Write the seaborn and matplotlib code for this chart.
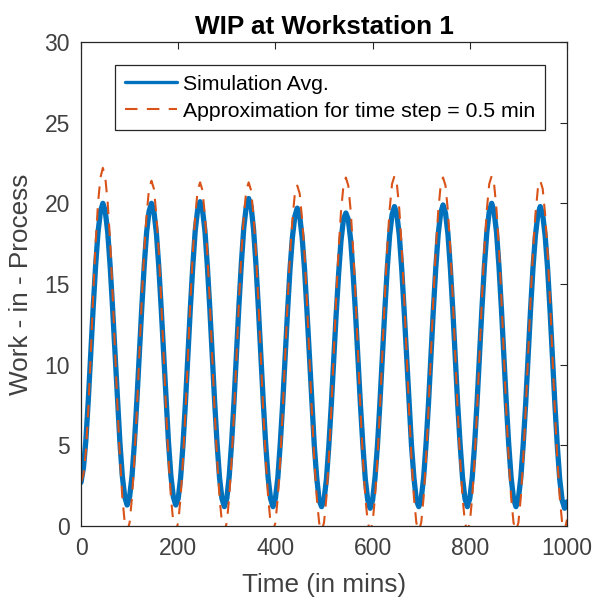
import numpy as np
import pandas as pd
import matplotlib
matplotlib.use("Agg")
import matplotlib.pyplot as plt
import seaborn as sns

# ---- data (5-minute sampling) ----
time_min = list(range(0, 1001, 5))

sim_avg = [
    2.7, 3.6, 5.3, 7.8, 10.7, 13.5, 16.1, 18.2, 19.5, 20.0, 19.5, 18.2, 16.1, 13.5, 10.7, 7.8, 5.2, 3.1, 1.8, 1.3,
    1.8, 3.1, 5.2, 7.8, 10.7, 13.5, 16.1, 18.2, 19.5, 20.0, 19.5, 18.2, 16.1, 13.5, 10.7, 7.8, 5.2, 3.1, 1.8, 1.3,
    1.7, 3.0, 5.1, 7.7, 10.6, 13.5, 16.1, 18.3, 19.6, 20.1, 19.6, 18.3, 16.1, 13.5, 10.6, 7.7, 5.1, 3.0, 1.7, 1.2,
    1.7, 3.1, 5.2, 7.8, 10.8, 13.7, 16.3, 18.5, 19.8, 20.3, 19.8, 18.4, 16.2, 13.5, 10.6, 7.7, 5.1, 3.0, 1.7, 1.2,
    1.7, 3.0, 5.1, 7.6, 10.5, 13.3, 15.9, 17.9, 19.2, 19.7, 19.2, 17.9, 15.9, 13.3, 10.5, 7.6, 5.0, 3.0, 1.6, 1.2,
    1.6, 2.9, 5.0, 7.5, 10.3, 13.1, 15.6, 17.7, 19.0, 19.4, 19.0, 17.7, 15.6, 13.1, 10.3, 7.5, 5.0, 2.9, 1.6, 1.1,
    1.6, 3.0, 5.0, 7.6, 10.5, 13.3, 15.9, 18.0, 19.3, 19.8, 19.3, 18.0, 15.9, 13.3, 10.5, 7.6, 5.0, 3.0, 1.6, 1.2,
    1.7, 3.0, 5.1, 7.6, 10.5, 13.4, 16.0, 18.1, 19.4, 19.9, 19.4, 18.1, 16.0, 13.4, 10.5, 7.6, 5.1, 3.0, 1.7, 1.2,
    1.7, 3.0, 5.1, 7.7, 10.6, 13.5, 16.1, 18.2, 19.5, 20.0, 19.5, 18.2, 16.1, 13.5, 10.6, 7.7, 5.1, 3.0, 1.7, 1.2,
    1.7, 3.0, 5.1, 7.6, 10.5, 13.4, 16.0, 18.0, 19.3, 19.8, 19.3, 18.0, 16.0, 13.4, 10.5, 7.6, 5.0, 2.9, 1.6, 1.1,
    1.5,
]

approx = [
    2.7, 3.2, 4.6, 7.2, 10.6, 14.3, 17.5, 20.0, 21.6, 22.2, 21.6, 20.0, 17.6, 14.4, 10.9, 7.4, 4.3, 1.8, 0.2, -0.3,
    0.2, 1.8, 4.2, 7.2, 10.6, 14.0, 17.0, 19.3, 20.9, 21.4, 20.9, 19.3, 17.0, 14.0, 10.6, 7.2, 4.2, 1.8, 0.2, -0.3,
    0.2, 1.8, 4.2, 7.1, 10.5, 13.9, 16.9, 19.2, 20.8, 21.3, 20.8, 19.2, 16.9, 13.9, 10.5, 7.1, 4.2, 1.8, 0.2, -0.3,
    0.2, 1.8, 4.2, 7.1, 10.5, 13.9, 16.9, 19.2, 20.8, 21.3, 20.8, 19.2, 16.9, 13.9, 10.5, 7.1, 4.2, 1.8, 0.2, -0.3,
    0.2, 1.8, 4.1, 7.1, 10.4, 13.8, 16.8, 19.0, 20.6, 21.1, 20.6, 19.0, 16.8, 13.8, 10.4, 7.1, 4.1, 1.8, 0.2, -0.3,
    0.2, 1.8, 4.2, 7.2, 10.6, 14.1, 17.1, 19.5, 21.1, 21.6, 21.1, 19.5, 17.1, 14.1, 10.6, 7.2, 4.2, 1.8, 0.2, -0.3,
    0.2, 1.8, 4.2, 7.2, 10.7, 14.1, 17.2, 19.6, 21.2, 21.7, 21.2, 19.6, 17.2, 14.1, 10.7, 7.2, 4.2, 1.8, 0.2, -0.3,
    0.2, 1.8, 4.2, 7.2, 10.6, 14.1, 17.1, 19.5, 21.1, 21.6, 21.1, 19.5, 17.1, 14.1, 10.6, 7.2, 4.2, 1.8, 0.2, -0.3,
    0.2, 1.8, 4.2, 7.2, 10.7, 14.1, 17.2, 19.6, 21.2, 21.7, 21.2, 19.6, 17.2, 14.1, 10.7, 7.2, 4.2, 1.8, 0.2, -0.3,
    0.2, 1.8, 4.2, 7.2, 10.6, 14.0, 17.0, 19.3, 20.9, 21.4, 20.9, 19.3, 17.0, 14.0, 10.6, 7.2, 4.2, 1.8, 0.2, -0.3,
    0.4,
]

series_labels = ["Simulation Avg.", "Approximation for time step = 0.5 min"]
x_ticks = [0, 200, 400, 600, 800, 1000]
y_ticks = [0, 5, 10, 15, 20, 25, 30]

title_text = "WIP at Workstation 1"
x_label = "Time (in mins)"
y_label = "Work - in - Process"

# ---- styling ----
sns.set_theme(style="white")
plt.rcParams["font.family"] = ["Liberation Sans", "DejaVu Sans"]

BLUE = "#0072BD"
ORANGE = "#D95319"
TXT = "#262626"
TICKTXT = "#404040"

df = pd.DataFrame({"t": time_min, "sim": sim_avg, "approx": approx})

fig = plt.figure(figsize=(5.93, 6.01), dpi=100)
ax = fig.add_axes([81 / 593, 1 - 526 / 601, 486 / 593, 484 / 601])

sns.lineplot(data=df, x="t", y="sim", ax=ax, color=BLUE, linewidth=3.8,
             label=series_labels[0])
sns.lineplot(data=df, x="t", y="approx", ax=ax, color=ORANGE, linewidth=1.5,
             label=series_labels[1])
ax.lines[1].set_dashes([6, 4.5])

ax.set_xlim(0, 1000)
ax.set_ylim(0, 30)
ax.set_xticks(x_ticks)
ax.set_yticks(y_ticks)
ax.set_xticklabels([str(v) for v in x_ticks])
ax.set_yticklabels([str(v) for v in y_ticks])

ax.tick_params(direction="in", top=True, right=True, length=5, width=0.8,
               colors=TXT, labelcolor=TICKTXT, labelsize=16.5, pad=8)
for s in ax.spines.values():
    s.set_visible(True)
    s.set_color(TXT)
    s.set_linewidth(0.9)

ax.set_title(title_text, fontsize=18.8, fontweight="bold", color="black", pad=6)
ax.set_xlabel(x_label, fontsize=18.8, color=TICKTXT, labelpad=9)
ax.set_ylabel(y_label, fontsize=18.8, color=TICKTXT, labelpad=8)

leg = ax.legend(loc="upper left", bbox_to_anchor=(0.07, 0.952), borderaxespad=0,
                fontsize=15.3, frameon=True, fancybox=False, framealpha=1,
                edgecolor=TXT, handlelength=2.45, handletextpad=0.3,
                labelspacing=0.38, borderpad=0.45)
leg.get_frame().set_linewidth(0.9)
for t in leg.get_texts():
    t.set_color("black")
leg.get_lines()[0].set_linewidth(2.4)
leg.get_lines()[1].set_linewidth(1.5)

fig.savefig("out.png", dpi=100)
